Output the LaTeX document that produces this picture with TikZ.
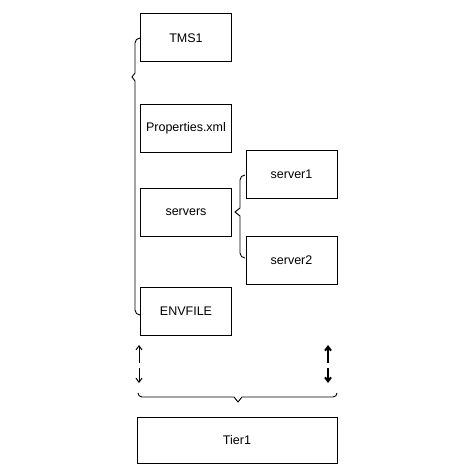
\documentclass[tikz,border=0pt]{standalone}
\usepackage{fontspec}
\setmainfont{Liberation Sans}
\usetikzlibrary{arrows.meta}
\begin{document}
\begin{tikzpicture}[x=1pt,y=-1pt,line width=1pt,
  box/.style={draw,minimum width=91pt,minimum height=48pt,inner sep=0pt,font=\fontsize{12.5}{14}\selectfont},
  brace/.style={draw,line width=0.9pt},
  thinarr/.style={-{Straight Barb[length=4pt,width=6pt]},line width=1pt},
  thickarr/.style={-{Straight Barb[length=4pt,width=6pt]},line width=2pt}]
\useasboundingbox (0,0) rectangle (457,473);
\node[box] (tms) at (186,38) {TMS1};
\node[box] (prop) at (186,128.5) {Properties.xml};
\node[box] (servers) at (186,212.5) {servers};
\node[box] (env) at (186,311) {ENVFILE};
\node[box] (s1) at (291.5,174.5) {server1};
\node[box] (s2) at (291.5,260.5) {server2};
\node[box,minimum width=200pt,minimum height=46pt] (tier) at (237,440) {Tier1};
% left brace
\draw[brace] (140,38) arc[start angle=270,end angle=180,radius=5] -- (135,73) -- (132,77) -- (135,81) -- (135,310) arc[start angle=180,end angle=90,radius=5];
% servers brace
\draw[brace] (245,175) arc[start angle=270,end angle=180,radius=5] -- (240,208) -- (235,212) -- (240,216) -- (240,253) arc[start angle=180,end angle=90,radius=5];
% bottom brace
\draw[brace] (138,393) arc[start angle=180,end angle=90,radius=4] -- (234,397) -- (238,402) -- (242,397) -- (333,397) arc[start angle=90,end angle=0,radius=4];
% arrows
\coordinate (la1) at (139,363); \coordinate (la2) at (139,345);
\coordinate (lb1) at (139,368); \coordinate (lb2) at (139,383);
\coordinate (ra1) at (328,363); \coordinate (ra2) at (328,345);
\coordinate (rb1) at (328,368); \coordinate (rb2) at (328,383);
\draw[thinarr] (la1) -- (la2);
\draw[thinarr] (lb1) -- (lb2);
\draw[thickarr] (ra1) -- (ra2);
\draw[thickarr] (rb1) -- (rb2);
\end{tikzpicture}
\end{document}
